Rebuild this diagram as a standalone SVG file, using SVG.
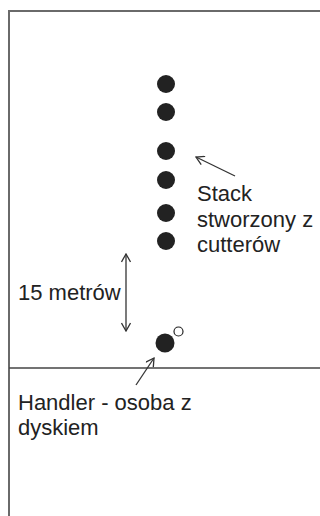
<svg xmlns="http://www.w3.org/2000/svg" width="320" height="516" viewBox="0 0 320 516">
<defs>
<style>
.frame{fill:none;stroke:#6a6a6a;stroke-width:2}
.field{stroke:#444;stroke-width:1.3}
.dot{fill:#222}
.disc{fill:#fff;stroke:#222;stroke-width:1.2}
.conn{fill:none;stroke:#333;stroke-width:1.3}
.lbl{font-family:"Liberation Sans",Arial,sans-serif;font-size:22px;fill:#222}
</style>
<marker id="ah" viewBox="0 0 10 10" refX="9" refY="5" markerWidth="10" markerHeight="10" markerUnits="userSpaceOnUse" orient="auto-start-reverse">
<path d="M1,0.5 L9,5 L1,9.5" fill="none" stroke="#333" stroke-width="1.3"/>
</marker>
</defs>
<rect x="0" y="0" width="320" height="516" fill="#fff"/>
<g id="field">
<path class="frame" d="M9,516 V11 H320"/>
<line class="field" x1="9" y1="368" x2="320" y2="368"/>
</g>
<g id="stack">
<circle class="dot" cx="166" cy="84" r="9"/>
<circle class="dot" cx="166" cy="112" r="9"/>
<circle class="dot" cx="166" cy="151" r="9"/>
<circle class="dot" cx="166" cy="180" r="9"/>
<circle class="dot" cx="166" cy="213" r="9"/>
<circle class="dot" cx="166" cy="241" r="9"/>
</g>
<g id="handler">
<circle class="dot" cx="165" cy="343" r="9.5"/>
<circle class="disc" cx="178.5" cy="331.5" r="4.5"/>
</g>
<g id="connectors">
<line class="conn" x1="235" y1="176" x2="196" y2="157" marker-end="url(#ah)"/>
<line class="conn" x1="126" y1="254" x2="126" y2="331" marker-start="url(#ah)" marker-end="url(#ah)"/>
<line class="conn" x1="136" y1="385" x2="154" y2="358" marker-end="url(#ah)"/>
</g>
<g id="label-stack">
<text class="lbl" x="197" y="201">Stack</text>
<text class="lbl" x="197" y="227">stworzony z</text>
<text class="lbl" x="197" y="252">cutterów</text>
</g>
<g id="label-distance">
<text class="lbl" x="18" y="300">15 metrów</text>
</g>
<g id="label-handler">
<text class="lbl" x="18" y="410">Handler - osoba z</text>
<text class="lbl" x="18" y="435">dyskiem</text>
</g>
</svg>
